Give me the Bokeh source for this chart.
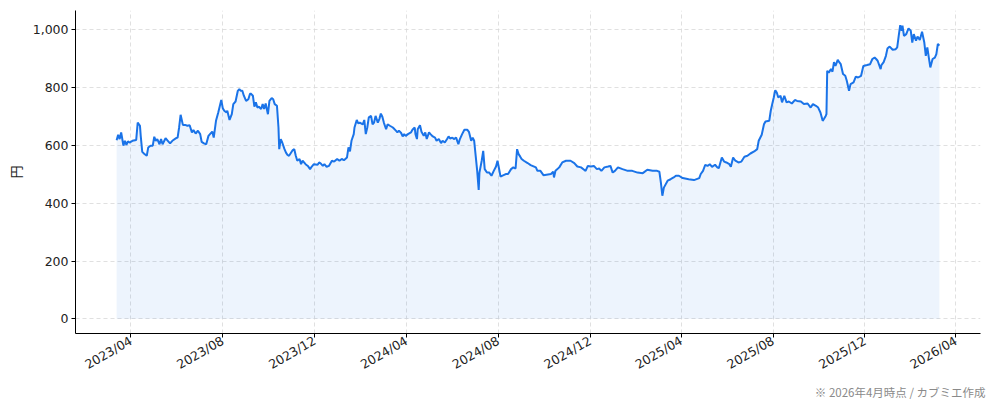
import pandas as pd
from bokeh.plotting import figure
from bokeh.models import (ColumnDataSource, Range1d, FixedTicker,
                          DatetimeTickFormatter, NumeralTickFormatter, Title)
from bokeh.embed import file_html
from bokeh.resources import INLINE
import math

dates = [
    "2023-03-13","2023-03-15","2023-03-17","2023-03-19","2023-03-20","2023-03-22","2023-03-24","2023-03-26","2023-03-28","2023-03-30",
    "2023-04-03","2023-04-08","2023-04-10","2023-04-13","2023-04-14","2023-04-16","2023-04-19","2023-04-22","2023-04-24","2023-04-27",
    "2023-04-30","2023-05-02","2023-05-04","2023-05-06","2023-05-09","2023-05-11","2023-05-13","2023-05-17","2023-05-20","2023-05-23",
    "2023-05-26","2023-05-31","2023-06-02","2023-06-04","2023-06-06","2023-06-09","2023-06-12","2023-06-15","2023-06-18","2023-06-21",
    "2023-06-23","2023-06-26","2023-06-29","2023-07-02","2023-07-04","2023-07-07","2023-07-10","2023-07-13","2023-07-15","2023-07-18",
    "2023-07-20","2023-07-23","2023-07-26","2023-07-30","2023-08-01","2023-08-03","2023-08-06","2023-08-07","2023-08-10","2023-08-13",
    "2023-08-15","2023-08-18","2023-08-21","2023-08-23","2023-08-25","2023-08-27","2023-08-29","2023-09-01","2023-09-04","2023-09-06",
    "2023-09-07","2023-09-10","2023-09-12","2023-09-14","2023-09-16","2023-09-18","2023-09-21","2023-09-23","2023-09-25","2023-09-27",
    "2023-09-30","2023-10-02","2023-10-05","2023-10-07","2023-10-09","2023-10-12","2023-10-14","2023-10-15","2023-10-17","2023-10-19",
    "2023-10-22","2023-10-24","2023-10-26","2023-10-28","2023-10-30","2023-11-02","2023-11-04","2023-11-06","2023-11-08","2023-11-11",
    "2023-11-13","2023-11-15","2023-11-17","2023-11-19","2023-11-22","2023-11-25","2023-11-27","2023-11-30","2023-12-05","2023-12-07",
    "2023-12-09","2023-12-12","2023-12-14","2023-12-17","2023-12-20","2023-12-24","2023-12-27","2023-12-31","2024-01-03","2024-01-06",
    "2024-01-09","2024-01-13","2024-01-15","2024-01-17","2024-01-19","2024-01-22","2024-01-23","2024-01-26","2024-01-28","2024-01-30",
    "2024-02-03","2024-02-05","2024-02-07","2024-02-09","2024-02-11","2024-02-14","2024-02-16","2024-02-18","2024-02-20","2024-02-23",
    "2024-02-25","2024-02-27","2024-02-29","2024-03-02","2024-03-05","2024-03-07","2024-03-10","2024-03-14","2024-03-18","2024-03-20",
    "2024-03-22","2024-03-25","2024-03-27","2024-03-29","2024-03-31","2024-04-03","2024-04-07","2024-04-09","2024-04-12","2024-04-13",
    "2024-04-15","2024-04-16","2024-04-19","2024-04-21","2024-04-24","2024-04-26","2024-04-28","2024-05-01","2024-05-03","2024-05-06",
    "2024-05-09","2024-05-11","2024-05-14","2024-05-17","2024-05-19","2024-05-22","2024-05-25","2024-05-27","2024-05-29","2024-06-01",
    "2024-06-03","2024-06-06","2024-06-09","2024-06-11","2024-06-14","2024-06-17","2024-06-21","2024-06-23","2024-06-26","2024-06-28",
    "2024-06-30","2024-07-02","2024-07-04","2024-07-06","2024-07-07","2024-07-10","2024-07-12","2024-07-14","2024-07-17","2024-07-20",
    "2024-07-23","2024-07-26","2024-07-29","2024-07-31","2024-08-02","2024-08-04","2024-08-08","2024-08-11","2024-08-14","2024-08-18",
    "2024-08-21","2024-08-24","2024-08-26","2024-08-28","2024-08-30","2024-09-01","2024-09-04","2024-09-09","2024-09-13","2024-09-20",
    "2024-09-22","2024-09-26","2024-09-30","2024-10-10","2024-10-13","2024-10-14","2024-10-16","2024-10-21","2024-10-25","2024-10-30",
    "2024-11-05","2024-11-10","2024-11-14","2024-11-19","2024-11-23","2024-11-25","2024-11-28","2024-12-02","2024-12-06","2024-12-10",
    "2024-12-13","2024-12-16","2024-12-20","2024-12-25","2024-12-28","2024-12-31","2025-01-03","2025-01-07","2025-01-13","2025-01-20",
    "2025-01-26","2025-02-02","2025-02-09","2025-02-15","2025-02-22","2025-02-28","2025-03-03","2025-03-05","2025-03-07","2025-03-09",
    "2025-03-14","2025-03-18","2025-03-22","2025-03-25","2025-03-29","2025-04-03","2025-04-11","2025-04-18","2025-04-25","2025-04-27",
    "2025-04-30","2025-05-03","2025-05-06","2025-05-09","2025-05-12","2025-05-16","2025-05-19","2025-05-21","2025-05-25","2025-05-28",
    "2025-05-31","2025-06-04","2025-06-06","2025-06-09","2025-06-12","2025-06-16","2025-06-20","2025-06-24","2025-06-28","2025-07-02",
    "2025-07-07","2025-07-11","2025-07-13","2025-07-17","2025-07-20","2025-07-22","2025-07-27","2025-07-29","2025-07-31","2025-08-02",
    "2025-08-04","2025-08-06","2025-08-08","2025-08-11","2025-08-13","2025-08-16","2025-08-19","2025-08-22","2025-08-26","2025-08-30",
    "2025-09-02","2025-09-07","2025-09-11","2025-09-16","2025-09-20","2025-09-23","2025-09-27","2025-09-30","2025-10-03","2025-10-06",
    "2025-10-08","2025-10-10","2025-10-11","2025-10-12","2025-10-14","2025-10-17","2025-10-19","2025-10-21","2025-10-23","2025-10-26",
    "2025-10-28","2025-10-30","2025-11-02","2025-11-05","2025-11-07","2025-11-10","2025-11-12","2025-11-16","2025-11-19","2025-11-22",
    "2025-11-26","2025-11-29","2025-12-04","2025-12-08","2025-12-11","2025-12-14","2025-12-16","2025-12-18","2025-12-22","2025-12-23",
    "2025-12-26","2025-12-29","2025-12-31","2026-01-03","2026-01-07","2026-01-11","2026-01-13","2026-01-15","2026-01-17","2026-01-19",
    "2026-01-20","2026-01-22","2026-01-25","2026-01-28","2026-01-31","2026-02-02","2026-02-04","2026-02-07","2026-02-09","2026-02-12",
    "2026-02-15","2026-02-18","2026-02-20","2026-02-22","2026-02-24","2026-02-26","2026-03-01","2026-03-04","2026-03-06","2026-03-08",
    "2026-03-10",
]

prices = [
    618, 637, 622, 645, 630, 599, 616, 602, 614, 610,
    616, 619, 679, 668, 633, 578, 570, 564, 593, 599,
    599, 630, 616, 622, 604, 622, 604, 625, 616, 607,
    616, 625, 627, 662, 706, 671, 671, 668, 670, 645,
    653, 641, 651, 639, 612, 607, 604, 633, 639, 648,
    627, 685, 714, 757, 729, 720, 714, 720, 688, 708,
    743, 752, 789, 795, 789, 789, 772, 754, 760, 777,
    780, 772, 734, 749, 731, 734, 726, 743, 726, 745,
    708, 754, 764, 760, 743, 737, 662, 587, 622, 610,
    587, 575, 567, 564, 572, 584, 587, 564, 547, 553,
    535, 547, 541, 535, 529, 518, 526, 535, 533, 541,
    538, 529, 535, 526, 529, 547, 544, 553, 547, 553,
    549, 558, 593, 579, 616, 639, 662, 688, 676, 679,
    673, 688, 639, 662, 697, 702, 673, 679, 702, 679,
    691, 710, 699, 679, 656, 673, 668, 662, 651, 645,
    651, 643, 631, 639, 633, 639, 645, 654, 662, 639,
    622, 656, 670, 647, 633, 645, 622, 645, 639, 631,
    627, 616, 622, 608, 616, 610, 622, 631, 624, 627,
    622, 627, 604, 622, 639, 654, 654, 647, 616, 627,
    616, 564, 512, 446, 506, 547, 581, 518, 506, 506,
    495, 512, 527, 547, 520, 492, 497, 501, 501, 518,
    524, 520, 587, 570, 562, 553, 547, 539, 532, 524,
    512, 512, 497, 501, 509, 489, 512, 524, 541, 547,
    547, 539, 527, 524, 516, 512, 529, 527, 529, 518,
    520, 512, 524, 527, 529, 506, 512, 524, 518, 512,
    512, 506, 504, 516, 512, 512, 509, 472, 426, 454,
    478, 483, 489, 495, 495, 487, 483, 480, 487, 501,
    512, 533, 529, 535, 526, 533, 524, 521, 558, 544,
    541, 535, 526, 558, 547, 541, 544, 561, 564, 572,
    579, 587, 616, 637, 673, 683, 685, 720, 743, 766,
    791, 783, 766, 772, 749, 772, 749, 752, 745, 757,
    754, 752, 743, 745, 731, 743, 737, 731, 714, 685,
    693, 702, 708, 858, 852, 864, 855, 888, 875, 896,
    888, 881, 847, 841, 824, 789, 812, 818, 838, 835,
    841, 875, 878, 881, 899, 904, 899, 893, 864, 878,
    888, 910, 935, 942, 931, 933, 939, 979, 1016, 997,
    1014, 979, 985, 1005, 997, 956, 985, 962, 977, 965,
    993, 956, 910, 939, 904, 870, 899, 904, 916, 951,
    945,
]

tick_labels = ["2023/04", "2023/08", "2023/12", "2024/04", "2024/08",
               "2024/12", "2025/04", "2025/08", "2025/12", "2026/04"]
y_ticks = [0, 200, 400, 600, 800, 1000]
y_label = "円"
footer = "※ 2026年4月時点 / カブミエ作成"

TICK_FONT = "DejaVu Sans"
CJK_FONT = "Noto Sans CJK JP"
LINE_COLOR = "#1a73e8"

dt = pd.to_datetime(dates)
src = ColumnDataSource(dict(date=dt, price=prices))

# matplotlib-like 5% margins
x0, x1 = dt.min(), dt.max()
xpad = (x1 - x0) * 0.05
ymax = max(prices)
ypad = ymax * 0.05

p = figure(frame_width=905, frame_height=323, x_axis_type="datetime",
           output_backend="svg", toolbar_location=None,
           x_range=Range1d(x0 - xpad, x1 + xpad),
           y_range=Range1d(-ypad, ymax + ypad),
           min_border_left=75, min_border_right=14, min_border_top=10, min_border_bottom=0)

p.outline_line_color = None
p.background_fill_color = "white"
p.border_fill_color = "white"

p.varea(x="date", y1=0, y2="price", source=src, fill_color=LINE_COLOR, fill_alpha=0.08)
p.line(x="date", y="price", source=src, line_color=LINE_COLOR, line_width=2)

tick_ms = [pd.Timestamp(t.replace("/", "-") + "-01").value // 10**6 for t in tick_labels]
p.xaxis.ticker = FixedTicker(ticks=tick_ms)
p.xaxis.formatter = DatetimeTickFormatter(months="%Y/%m", days="%Y/%m", years="%Y/%m",
                                          hours="%Y/%m", minutes="%Y/%m")
p.xaxis.major_label_orientation = math.pi / 6
p.yaxis.ticker = FixedTicker(ticks=y_ticks)
p.yaxis.formatter = NumeralTickFormatter(format="0,0")
p.yaxis.axis_label = y_label

for ax in (p.xaxis[0], p.yaxis[0]):
    ax.axis_line_color = "#000000"
    ax.axis_line_width = 1
    ax.major_tick_line_color = "#000000"
    ax.major_tick_out = 4
    ax.major_tick_in = 0
    ax.minor_tick_line_color = None
    ax.major_label_text_font = TICK_FONT
    ax.major_label_text_font_size = "12.5px"
    ax.major_label_text_color = "#222222"
    ax.major_label_standoff = 3
    ax.axis_label_text_font = CJK_FONT
    ax.axis_label_text_font_size = "13px"
    ax.axis_label_text_font_style = "normal"
    ax.axis_label_text_color = "#222222"
    ax.axis_label_standoff = 5

p.xaxis.major_label_standoff = 2
p.xaxis.axis_label_standoff = 0

for g in (p.xgrid[0], p.ygrid[0]):
    g.grid_line_color = "#d8d8d8"
    g.grid_line_dash = "4 3"
    g.grid_line_width = 1
    g.grid_line_alpha = 0.8

p.add_layout(Title(text=footer, align="right", text_font=CJK_FONT, text_font_size="11.5px",
                   text_font_style="normal", text_color="#8a8a8a", offset=-5,
                   standoff=0), "below")

open("out.html", "w").write(file_html(p, INLINE))
